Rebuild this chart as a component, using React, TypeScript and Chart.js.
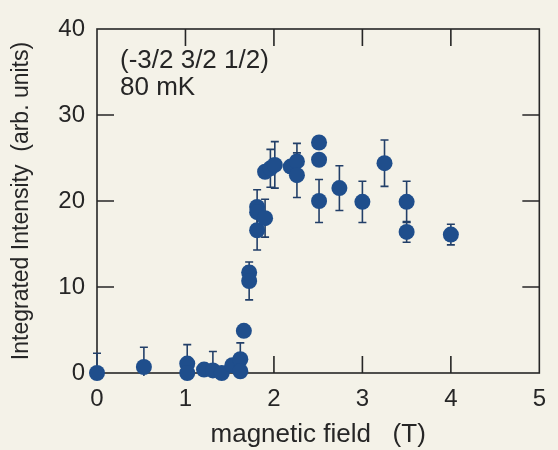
import React, { useEffect, useRef } from "react";
import { Chart, registerables } from "chart.js";

Chart.register(...registerables);

// Magnetic field (T)
const fieldT = [
  0.0, 0.53, 1.02, 1.02, 1.21, 1.31, 1.41, 1.53, 1.62, 1.62, 1.66, 1.72, 1.72,
  1.81, 1.81, 1.81, 1.9, 1.9, 1.96, 2.01, 2.19, 2.26, 2.26, 2.51, 2.51, 2.51,
  2.74, 3.0, 3.25, 3.5, 3.5, 4.0,
];
// Integrated intensity (arb. units)
const intensity = [
  0.0, 0.7, 1.1, 0.0, 0.4, 0.3, 0.0, 0.9, 1.6, 0.2, 4.9, 11.7, 10.7,
  19.3, 18.7, 16.6, 18.0, 23.4, 23.8, 24.2, 24.0, 24.6, 23.0, 26.8, 24.8, 20.0,
  21.5, 19.9, 24.4, 19.9, 16.4, 16.1,
];
// Error bar half-lengths
const errorBars = [
  2.3, 2.3, 2.2, 0, 0, 2.2, 0, 0, 1.9, 0, 0, 0.7, 2.2,
  2.0, 0, 2.3, 2.2, 0, 2.2, 2.7, 0, 2.1, 2.6, 0, 0, 2.5,
  2.6, 2.4, 2.7, 2.4, 1.2, 1.2,
];

const xTicks = [0, 1, 2, 3, 4, 5];
const yTicks = [0, 10, 20, 30, 40];
const annotationLines = ["(-3/2 3/2 1/2)", "80 mK"];
const xTitle = "magnetic field   (T)";
const yTitle = "Integrated Intensity  (arb. units)";

const PAPER = "#f4f2e8";
const INK = "#262626";
const DOT = "#1f4e8c";
const ERR = "#223f68";
const FONT = "'Liberation Sans', Arial, Helvetica, sans-serif";

export default function App() {
  const canvasRef = useRef<HTMLCanvasElement | null>(null);

  useEffect(() => {
    const canvas = canvasRef.current;
    if (!canvas) return;

    const background = {
      id: "paperBg",
      beforeDraw(chart: any) {
        const ctx = chart.ctx;
        ctx.save();
        ctx.fillStyle = PAPER;
        ctx.fillRect(0, 0, chart.width, chart.height);
        ctx.restore();
      },
    };

    const errorPlugin = {
      id: "errorBars",
      beforeDatasetsDraw(chart: any) {
        const ctx = chart.ctx;
        const yScale = chart.scales.y;
        const { left, right, top, bottom } = chart.chartArea;
        const meta = chart.getDatasetMeta(0);
        ctx.save();
        ctx.beginPath();
        ctx.rect(left - 10, top, right - left + 20, bottom - top + 3);
        ctx.clip();
        ctx.strokeStyle = ERR;
        ctx.lineWidth = 1.6;
        meta.data.forEach((pt: any, i: number) => {
          const e = errorBars[i];
          if (!e) return;
          const x = pt.x;
          const yTop = yScale.getPixelForValue(intensity[i] + e);
          const yBot = yScale.getPixelForValue(intensity[i] - e);
          ctx.beginPath();
          ctx.moveTo(x, yTop);
          ctx.lineTo(x, yBot);
          ctx.moveTo(x - 4, yTop);
          ctx.lineTo(x + 4, yTop);
          ctx.moveTo(x - 4, yBot);
          ctx.lineTo(x + 4, yBot);
          ctx.stroke();
        });
        ctx.restore();
      },
    };

    const framePlugin = {
      id: "frame",
      beforeDatasetsDraw(chart: any) {
        const ctx = chart.ctx;
        const { left, right, top, bottom } = chart.chartArea;
        const xs = chart.scales.x;
        const ys = chart.scales.y;
        const tl = 17;
        ctx.save();
        ctx.strokeStyle = INK;
        ctx.lineWidth = 1.6;
        ctx.strokeRect(left, top, right - left, bottom - top);
        ctx.beginPath();
        xTicks.slice(1, -1).forEach((v) => {
          const px = xs.getPixelForValue(v);
          ctx.moveTo(px, bottom);
          ctx.lineTo(px, bottom - tl);
          ctx.moveTo(px, top);
          ctx.lineTo(px, top + tl);
        });
        yTicks.slice(1, -1).forEach((v) => {
          const py = ys.getPixelForValue(v);
          ctx.moveTo(left, py);
          ctx.lineTo(left + tl, py);
          ctx.moveTo(right, py);
          ctx.lineTo(right - tl, py);
        });
        ctx.stroke();
        ctx.fillStyle = INK;
        ctx.font = `26px ${FONT}`;
        ctx.textAlign = "left";
        ctx.textBaseline = "alphabetic";
        ctx.fillText(annotationLines[0], left + 23, top + 39);
        ctx.fillText(annotationLines[1], left + 23, top + 66);
        ctx.restore();
      },
    };

    const chart = new Chart(canvas, {
      type: "scatter",
      data: {
        datasets: [
          {
            data: fieldT.map((x, i) => ({ x, y: intensity[i] })),
            backgroundColor: DOT,
            borderColor: DOT,
            borderWidth: 0,
            pointRadius: 8,
            pointHoverRadius: 8,
            clip: false as any,
          },
        ],
      },
      options: {
        responsive: false,
        animation: false,
        events: [],
        layout: { padding: { top: 29, right: 11, left: 0, bottom: 0 } },
        plugins: {
          legend: { display: false },
          tooltip: { enabled: false },
        },
        scales: {
          x: {
            type: "linear",
            min: 0,
            max: 5,
            afterBuildTicks: (s: any) => {
              s.ticks = xTicks.map((v) => ({ value: v }));
            },
            afterFit: (s: any) => {
              s.height = 77;
            },
            grid: { display: false, drawTicks: false },
            border: { display: false },
            ticks: {
              color: INK,
              font: { family: FONT, size: 24 },
              padding: 12,
              maxRotation: 0,
              autoSkip: false,
            },
            title: {
              display: true,
              text: xTitle,
              color: INK,
              font: { family: FONT, size: 26 },
              padding: { top: 0, bottom: 0 },
            },
          },
          y: {
            type: "linear",
            min: 0,
            max: 40,
            afterBuildTicks: (s: any) => {
              s.ticks = yTicks.map((v) => ({ value: v }));
            },
            afterFit: (s: any) => {
              s.width = 97;
            },
            grid: { display: false, drawTicks: false },
            border: { display: false },
            ticks: {
              color: INK,
              font: { family: FONT, size: 24 },
              padding: 12,
            },
            title: {
              display: true,
              text: yTitle,
              color: INK,
              font: { family: FONT, size: 23 },
              padding: { top: 8, bottom: 0 },
            },
          },
        },
      },
      plugins: [background, framePlugin, errorPlugin],
    });

    return () => chart.destroy();
  }, []);

  return (
    <div
      style={{
        position: "absolute",
        left: 0,
        top: 0,
        width: 558,
        height: 450,
        background: PAPER,
      }}
    >
      <canvas ref={canvasRef} width={558} height={450} style={{ display: "block" }} />
    </div>
  );
}
